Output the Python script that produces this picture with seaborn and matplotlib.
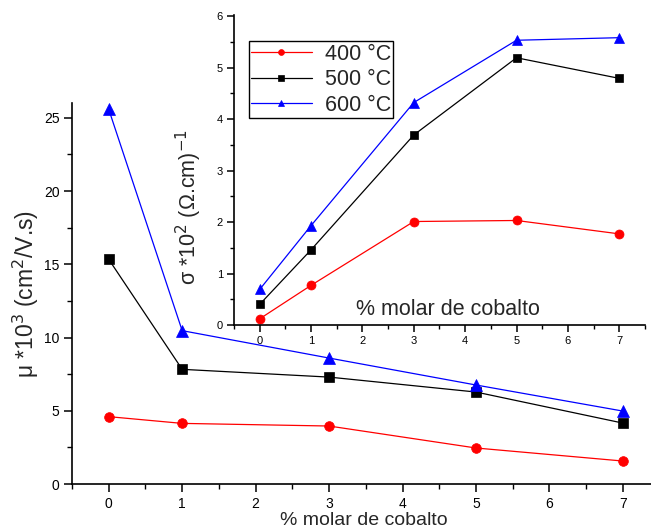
import matplotlib
matplotlib.use("Agg")
import matplotlib.pyplot as plt
import seaborn as sns
import pandas as pd
from matplotlib.ticker import MultipleLocator

sns.set_theme(style="ticks")
plt.rcParams['font.family'] = ['Liberation Sans', 'DejaVu Sans']

cobalt = [0, 1, 3, 5, 7]
temps = ["400 °C", "500 °C", "600 °C"]
mobility_400 = [4.6, 4.14, 3.96, 2.46, 1.57]
mobility_500 = [15.34, 7.83, 7.3, 6.28, 4.16]
mobility_600 = [25.58, 10.47, 8.6, 6.76, 4.98]
sigma_400 = [0.12, 0.77, 2.01, 2.03, 1.77]
sigma_500 = [0.40, 1.46, 3.69, 5.19, 4.79]
sigma_600 = [0.69, 1.93, 4.32, 5.53, 5.58]

colors = ["#ff0000", "#000000", "#0000ff"]
markers = ["o", "s", "^"]
msizes = [7, 6.5, 8]

fig = plt.figure(figsize=(6.51, 5.29), dpi=100)
ax = fig.add_axes([0.1106, 0.085, 0.897, 0.72])
ax_in = fig.add_axes([0.3594, 0.3856, 0.6313, 0.586])

def style_axes(a, labelsize, majlen, minlen):
    for s in ["top", "right"]:
        a.spines[s].set_visible(False)
    for s in ["left", "bottom"]:
        a.spines[s].set_linewidth(1.2)
        a.spines[s].set_color("black")
    a.tick_params(which="major", direction="out", length=majlen, width=1.1,
                  labelsize=labelsize, colors="black", pad=3)
    a.tick_params(which="minor", direction="out", length=minlen, width=1.0, colors="black")
    a.grid(False)

main_series = [mobility_400, mobility_500, mobility_600]
for vals, c, m, ms, t in zip(main_series, colors, markers, msizes, temps):
    sns.lineplot(x=cobalt, y=vals, ax=ax, color=c, marker=m, markersize=ms,
                 mec=c, mew=0.5, linewidth=0.9, label=t, legend=False)

ax.set_xlim(-0.5, 7.45)
ax.set_ylim(0, 26)
ax.xaxis.set_major_locator(MultipleLocator(1))
ax.xaxis.set_minor_locator(MultipleLocator(0.5))
ax.yaxis.set_major_locator(MultipleLocator(5))
ax.yaxis.set_minor_locator(MultipleLocator(2.5))
style_axes(ax, 10, 6, 3.5)
ax.set_xlabel("% molar de cobalto", fontsize=14, labelpad=1)
ax.set_ylabel(r"μ *10$^3$ (cm$^2$/V.s)", fontsize=16.5, labelpad=2)
ax.patch.set_alpha(0)

inset_series = [sigma_400, sigma_500, sigma_600]
msizes_in = [6.5, 6, 7.5]
for vals, c, m, ms, t in zip(inset_series, colors, markers, msizes_in, temps):
    sns.lineplot(x=cobalt, y=vals, ax=ax_in, color=c, marker=m, markersize=ms,
                 mec=c, mew=0.5, linewidth=0.9, label=t)

ax_in.set_xlim(-0.5, 7.5)
ax_in.set_ylim(0, 6.02)
ax_in.xaxis.set_major_locator(MultipleLocator(1))
ax_in.xaxis.set_minor_locator(MultipleLocator(0.5))
ax_in.yaxis.set_major_locator(MultipleLocator(1))
ax_in.yaxis.set_minor_locator(MultipleLocator(0.5))
style_axes(ax_in, 8, 5, 3)
ax_in.set_xlabel("")
ax_in.set_ylabel(r"σ *10$^2$ (Ω.cm)$^{-1}$", fontsize=15.5)
ax_in.yaxis.set_label_coords(-0.072, 0.38)
ax_in.text(0.52, 0.05, "% molar de cobalto", transform=ax_in.transAxes,
           ha="center", va="center", fontsize=15.5)
ax_in.patch.set_facecolor("white")

leg = ax_in.legend(loc="upper left", bbox_to_anchor=(0.036, 0.915), fontsize=15.5,
                   frameon=True, fancybox=False, edgecolor="black", framealpha=1,
                   markerscale=0.65, handlelength=2.8, handletextpad=0.6,
                   borderpad=0.12, labelspacing=0.2, borderaxespad=0)
leg.get_frame().set_linewidth(1.0)

fig.savefig("out.png", dpi=100)
